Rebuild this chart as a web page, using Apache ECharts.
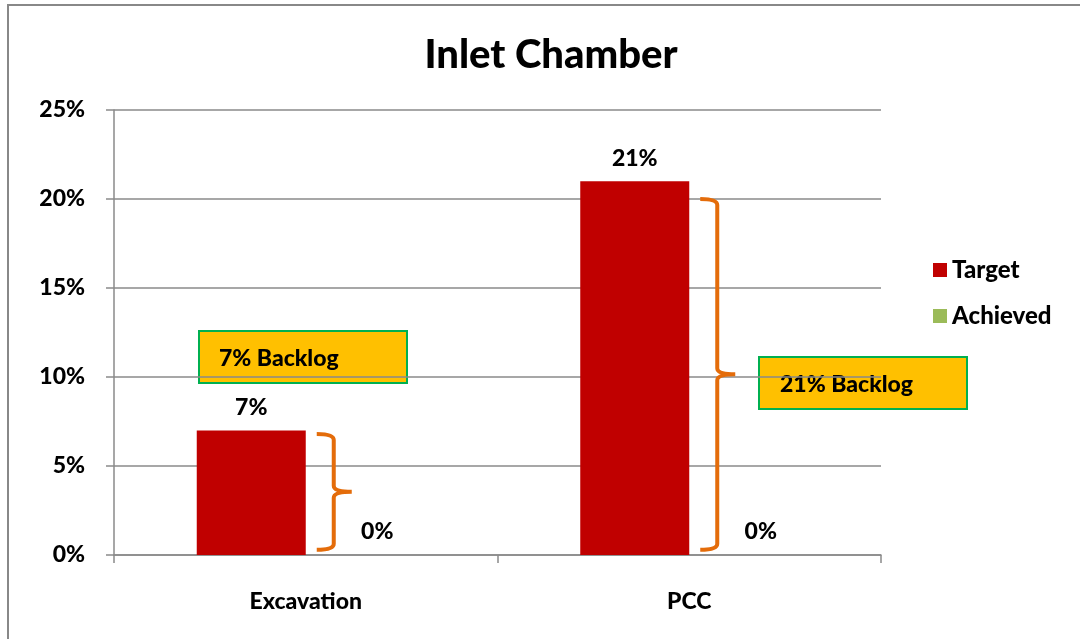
<!DOCTYPE html>
<html lang="en">

<head>
    <meta charset="UTF-8">
    <title>Inlet Chamber</title>
    <script src="https://cdn.jsdelivr.net/npm/echarts@6/dist/echarts.min.js"></script>
    <style>
        * {
            margin: 0;
            padding: 0
        }

        html,
        body {
            width: 100%;
            height: 100%;
            background: #fff;
        }

        #main {
            width: 1080px;
            height: 639px;
        }
    </style>
</head>

<body>
    <div id="main"></div>
    <script type="text/javascript">
        // data
        var categories = ['Excavation', 'PCC'];
        var targetValues = [7, 21];
        var achievedValues = [0, 0];
        var yTicks = [0, 5, 10, 15, 20, 25];
        // brace spans (value units): from bottom to top
        var braceBottom = [0.3, 0.3];
        var braceTop = [6.8, 20.0];
        var backlogText = ['7% Backlog', '21% Backlog'];

        var FONT = 'Lato, "Liberation Sans", sans-serif';
        var W = 900; // heavy weight, like the original
        var myChart = echarts.init(document.getElementById('main'));

        var braceData = categories.map(function (c, i) {
            return [i, braceBottom[i], braceTop[i]];
        });

        var option = {
            backgroundColor: '#fff',
            textStyle: { fontFamily: FONT },
            title: {
                text: 'Inlet Chamber',
                left: 546,
                textAlign: 'center',
                top: 30,
                textStyle: { fontSize: 40, fontWeight: W, color: '#000', fontFamily: FONT }
            },
            legend: {
                orient: 'vertical',
                left: 928,
                top: 253,
                itemWidth: 14,
                itemHeight: 14,
                itemGap: 22,
                icon: 'rect',
                data: ['Target', 'Achieved'],
                textStyle: { fontSize: 24, fontWeight: W, color: '#000', fontFamily: FONT }
            },
            grid: {
                left: 114,
                right: 199,
                top: 110,
                bottom: 84
            },
            xAxis: {
                type: 'category',
                data: categories,
                axisLine: { lineStyle: { color: '#8a8a8a', width: 1.5 } },
                axisTick: { show: true, length: 8, lineStyle: { color: '#8a8a8a', width: 1.5 } },
                axisLabel: { fontSize: 23, fontWeight: W, color: '#000', margin: 35, fontFamily: FONT }
            },
            yAxis: {
                type: 'value',
                min: yTicks[0],
                max: yTicks[yTicks.length - 1],
                interval: 5,
                axisLine: { show: true, lineStyle: { color: '#8a8a8a', width: 1.5 } },
                axisTick: { show: true, length: 8, lineStyle: { color: '#8a8a8a', width: 1.5 } },
                splitLine: { lineStyle: { color: '#8a8a8a', width: 1.5 } },
                axisLabel: {
                    formatter: '{value}%',
                    fontSize: 23,
                    fontWeight: W,
                    color: '#000',
                    margin: 29,
                    fontFamily: FONT
                }
            },
            series: [
                {
                    name: 'Target',
                    type: 'bar',
                    data: targetValues,
                    barWidth: 109,
                    barGap: '0%',
                    itemStyle: { color: '#C00000' },
                    label: {
                        show: true,
                        position: 'top',
                        distance: 11,
                        formatter: '{c}%',
                        fontSize: 23,
                        fontWeight: W,
                        color: '#000',
                        fontFamily: FONT
                    }
                },
                {
                    name: 'Achieved',
                    type: 'bar',
                    data: achievedValues,
                    barWidth: 109,
                    barGap: '0%',
                    itemStyle: { color: '#9BBB59' },
                    label: {
                        show: true,
                        position: 'top',
                        distance: 12,
                        offset: [17, 0],
                        formatter: '{c}%',
                        fontSize: 23,
                        fontWeight: W,
                        color: '#000',
                        fontFamily: FONT
                    }
                },
                {
                    // orange braces beside the target bars
                    type: 'custom',
                    silent: true,
                    z: 5,
                    data: braceData,
                    renderItem: function (params, api) {
                        var bot = api.coord([api.value(0), api.value(1)]);
                        var top = api.coord([api.value(0), api.value(2)]);
                        var cx = bot[0];
                        var x0 = cx + 11, x1 = cx + 28, tip = cx + 46;
                        var y0 = top[1], y1 = bot[1], ym = (y0 + y1) / 2;
                        var r = 6;
                        var d = 'M' + x0 + ' ' + y0 +
                            ' Q' + x1 + ' ' + y0 + ' ' + x1 + ' ' + (y0 + r) +
                            ' L' + x1 + ' ' + (ym - r) +
                            ' Q' + x1 + ' ' + ym + ' ' + tip + ' ' + ym +
                            ' Q' + x1 + ' ' + ym + ' ' + x1 + ' ' + (ym + r) +
                            ' L' + x1 + ' ' + (y1 - r) +
                            ' Q' + x1 + ' ' + y1 + ' ' + x0 + ' ' + y1;
                        return {
                            type: 'path',
                            shape: { pathData: d },
                            style: { fill: null, stroke: '#E46C0A', lineWidth: 4 }
                        };
                    }
                }
            ],
            graphic: [
                {
                    type: 'rect',
                    shape: { x: 8, y: 5, width: 1200, height: 800 },
                    style: { fill: null, stroke: '#888', lineWidth: 2 },
                    silent: true
                },
                {
                    type: 'group',
                    left: 198,
                    top: 330,
                    children: [
                        {
                            type: 'rect',
                            shape: { x: 0, y: 0, width: 208, height: 52 },
                            style: { fill: '#FFC000', stroke: '#00B050', lineWidth: 2 }
                        },
                        {
                            type: 'text',
                            x: 20,
                            y: 28,
                            style: {
                                text: backlogText[0],
                                fill: '#000',
                                font: W + ' 23px ' + FONT,
                                verticalAlign: 'middle'
                            }
                        }
                    ]
                },
                {
                    type: 'group',
                    left: 758,
                    top: 356,
                    children: [
                        {
                            type: 'rect',
                            shape: { x: 0, y: 0, width: 208, height: 52 },
                            style: { fill: '#FFC000', stroke: '#00B050', lineWidth: 2 }
                        },
                        {
                            type: 'text',
                            x: 21,
                            y: 28,
                            style: {
                                text: backlogText[1],
                                fill: '#000',
                                font: W + ' 23px ' + FONT,
                                verticalAlign: 'middle'
                            }
                        }
                    ]
                }
            ]
        };

        myChart.setOption(option);
    </script>
</body>

</html>
